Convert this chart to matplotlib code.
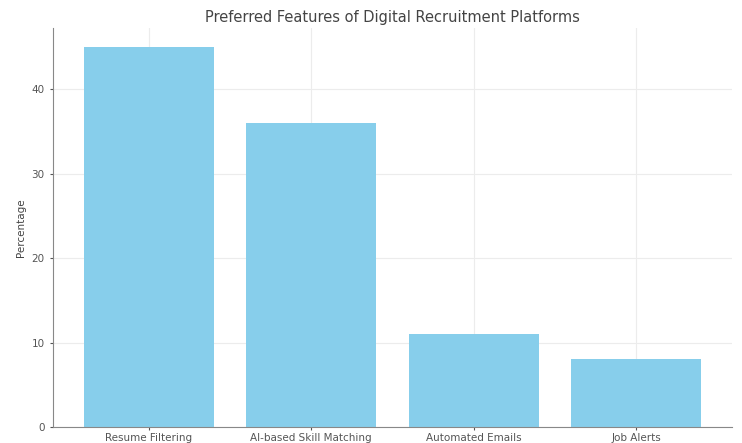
import matplotlib.pyplot as plt

features = ['Resume Filtering', 'AI-based Skill Matching', 'Automated Emails', 'Job Alerts']
percentages = [45, 36, 11, 8]

fig = plt.figure(figsize=(7.42, 4.43), dpi=100)
ax = fig.add_axes([53 / 742, 16 / 443, 679 / 742, 399 / 443])

ax.bar(features, percentages, color='skyblue', zorder=2)

ax.set_title('Preferred Features of Digital Recruitment Platforms', fontsize=10.5, color='#444444', pad=4)
ax.set_ylabel('Percentage', fontsize=7.5, color='#444444')
ax.tick_params(axis='both', labelsize=7.5, colors='#555555', length=2.5)
ax.tick_params(axis='x', pad=1.5)
ax.set_yticks([0, 10, 20, 30, 40])

ax.grid(True, color='#ececec', linewidth=0.8, zorder=0)
for side in ['top', 'right']:
    ax.spines[side].set_visible(False)
for side in ['left', 'bottom']:
    ax.spines[side].set_color('#888888')

fig.savefig('out.png', dpi=100)
